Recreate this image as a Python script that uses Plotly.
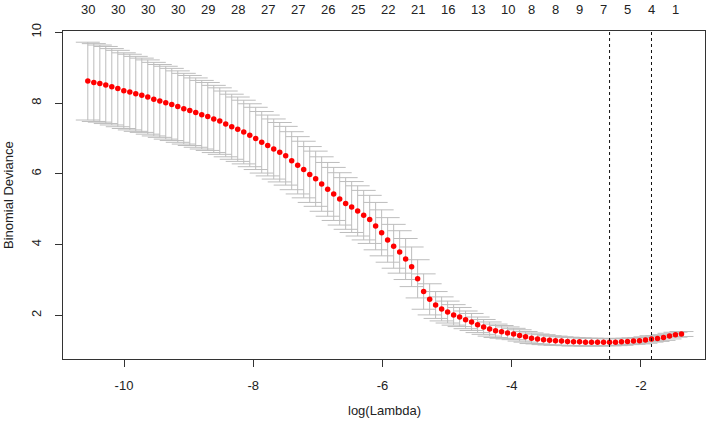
import plotly.graph_objects as go

# log(lambda) grid
log_lambda = [
    -10.560, -10.467, -10.374, -10.282, -10.189, -10.096, -10.003, -9.910, -9.818, -9.725,
    -9.632, -9.539, -9.446, -9.354, -9.261, -9.168, -9.075, -8.982, -8.890, -8.797,
    -8.704, -8.611, -8.518, -8.426, -8.333, -8.240, -8.147, -8.054, -7.962, -7.869,
    -7.776, -7.683, -7.590, -7.498, -7.405, -7.312, -7.219, -7.126, -7.034, -6.941,
    -6.848, -6.755, -6.662, -6.570, -6.477, -6.384, -6.291, -6.198, -6.106, -6.013,
    -5.920, -5.827, -5.734, -5.642, -5.549, -5.456, -5.363, -5.270, -5.178, -5.085,
    -4.992, -4.899, -4.806, -4.714, -4.621, -4.528, -4.435, -4.342, -4.250, -4.157,
    -4.064, -3.971, -3.878, -3.786, -3.693, -3.600, -3.507, -3.414, -3.322, -3.229,
    -3.136, -3.043, -2.950, -2.858, -2.765, -2.672, -2.579, -2.486, -2.394, -2.301,
    -2.208, -2.115, -2.022, -1.930, -1.837, -1.744, -1.651, -1.558, -1.466, -1.373,
]

# mean cross-validated binomial deviance
cvm = [
    8.62, 8.58, 8.55, 8.51, 8.46, 8.41, 8.35, 8.31, 8.26, 8.22,
    8.17, 8.11, 8.06, 8.01, 7.96, 7.90, 7.84, 7.79, 7.73, 7.67,
    7.62, 7.55, 7.49, 7.41, 7.33, 7.26, 7.18, 7.09, 7.00, 6.89,
    6.80, 6.70, 6.61, 6.51, 6.37, 6.24, 6.12, 5.98, 5.86, 5.71,
    5.56, 5.43, 5.29, 5.16, 5.06, 4.95, 4.83, 4.71, 4.52, 4.33,
    4.13, 3.95, 3.79, 3.59, 3.37, 3.03, 2.67, 2.45, 2.29, 2.18,
    2.09, 2.01, 1.95, 1.87, 1.81, 1.73, 1.67, 1.61, 1.56, 1.53,
    1.50, 1.47, 1.43, 1.39, 1.35, 1.33, 1.31, 1.29, 1.28, 1.27,
    1.26, 1.25, 1.25, 1.24, 1.24, 1.24, 1.24, 1.235, 1.24, 1.25,
    1.26, 1.27, 1.28, 1.30, 1.33, 1.34, 1.37, 1.41, 1.45, 1.47,
]

# standard error (half-height of the error bars)
cvsd = [
    1.10, 1.10, 1.09, 1.09, 1.08, 1.08, 1.07, 1.07, 1.06, 1.05,
    1.05, 1.04, 1.03, 1.03, 1.02, 1.01, 1.00, 0.99, 0.98, 0.97,
    0.96, 0.95, 0.94, 0.93, 0.92, 0.91, 0.90, 0.89, 0.88, 0.87,
    0.86, 0.85, 0.84, 0.83, 0.82, 0.81, 0.80, 0.79, 0.78, 0.77,
    0.76, 0.75, 0.74, 0.73, 0.72, 0.71, 0.70, 0.68, 0.67, 0.65,
    0.63, 0.62, 0.60, 0.58, 0.56, 0.54, 0.50, 0.44, 0.38, 0.34,
    0.31, 0.29, 0.27, 0.25, 0.24, 0.22, 0.21, 0.20, 0.19, 0.18,
    0.17, 0.16, 0.16, 0.15, 0.15, 0.14, 0.14, 0.13, 0.13, 0.12,
    0.12, 0.12, 0.11, 0.11, 0.11, 0.11, 0.10, 0.10, 0.10, 0.10,
    0.09, 0.09, 0.09, 0.09, 0.09, 0.08, 0.08, 0.08, 0.07, 0.07,
]

# number of nonzero coefficients shown on top axis
top_tick_x = [-10.560, -10.096, -9.632, -9.168, -8.704, -8.240, -7.776, -7.312,
              -6.848, -6.384, -5.920, -5.456, -4.992, -4.528, -4.064, -3.693,
              -3.322, -2.950, -2.579, -2.208, -1.837, -1.466]
top_tick_labels = ["30", "30", "30", "30", "29", "28", "27", "27", "26", "25", "22",
                   "21", "16", "13", "10", "8", "8", "9", "7", "5", "4", "1"]

lambda_min_log = -2.486
lambda_1se_log = -1.837

x_ticks = [-10, -8, -6, -4, -2]
y_ticks = [2, 4, 6, 8, 10]

FONT = "Liberation Sans, Arial, sans-serif"
FS = 13

fig = go.Figure()
fig.add_trace(go.Scatter(
    x=log_lambda, y=cvm, mode="markers",
    marker=dict(color="#FF0000", size=5.5, line=dict(width=0)),
    error_y=dict(type="data", array=cvsd, visible=True,
                 color="#BDBDBD", thickness=1, width=12),
    showlegend=False, hoverinfo="x+y",
))

for xv in (lambda_min_log, lambda_1se_log):
    fig.add_shape(type="line", x0=xv, x1=xv, y0=0, y1=1, xref="x", yref="paper",
                  line=dict(color="#111111", width=1, dash="dot"))

for xv, lab in zip(top_tick_x, top_tick_labels):
    fig.add_annotation(x=xv, y=1, xref="x", yref="paper", text=lab, showarrow=False,
                       yanchor="middle", yshift=22,
                       font=dict(family=FONT, size=FS, color="#222222"))

fig.add_annotation(x=0, xref="paper", xanchor="center", xshift=-55,
                   y=0.5, yref="paper", yanchor="middle",
                   text="Binomial Deviance", textangle=-90, showarrow=False,
                   font=dict(family=FONT, size=FS, color="#222222"))
fig.add_annotation(x=0.5, xref="paper", xanchor="center",
                   y=0, yref="paper", yanchor="middle", yshift=-51,
                   text="log(Lambda)", showarrow=False,
                   font=dict(family=FONT, size=FS, color="#222222"))

fig.update_layout(
    width=708, height=426,
    margin=dict(l=63, r=3, t=31, b=67, autoexpand=False),
    paper_bgcolor="white", plot_bgcolor="white",
    font=dict(family=FONT, size=FS, color="#222222"),
)
fig.update_xaxes(
    range=[-10.944, -1.009], tickvals=x_ticks, ticktext=[str(v) for v in x_ticks],
    showgrid=False, zeroline=False, showline=True, linecolor="#333333", linewidth=1,
    mirror=True, ticks="outside", ticklen=7, tickcolor="#333333",
    automargin=False, ticklabelstandoff=7,
)
fig.update_yaxes(
    range=[0.763, 10.037], tickvals=y_ticks, ticktext=[str(v) for v in y_ticks],
    tickangle=-90,
    showgrid=False, zeroline=False, showline=True, linecolor="#333333", linewidth=1,
    mirror=True, ticks="outside", ticklen=7, tickcolor="#333333",
    automargin=False, ticklabelstandoff=9,
)

fig.write_html("out.html", config={"displayModeBar": False},
               post_script="document.body.style.margin='0';document.body.style.overflow='hidden';")
